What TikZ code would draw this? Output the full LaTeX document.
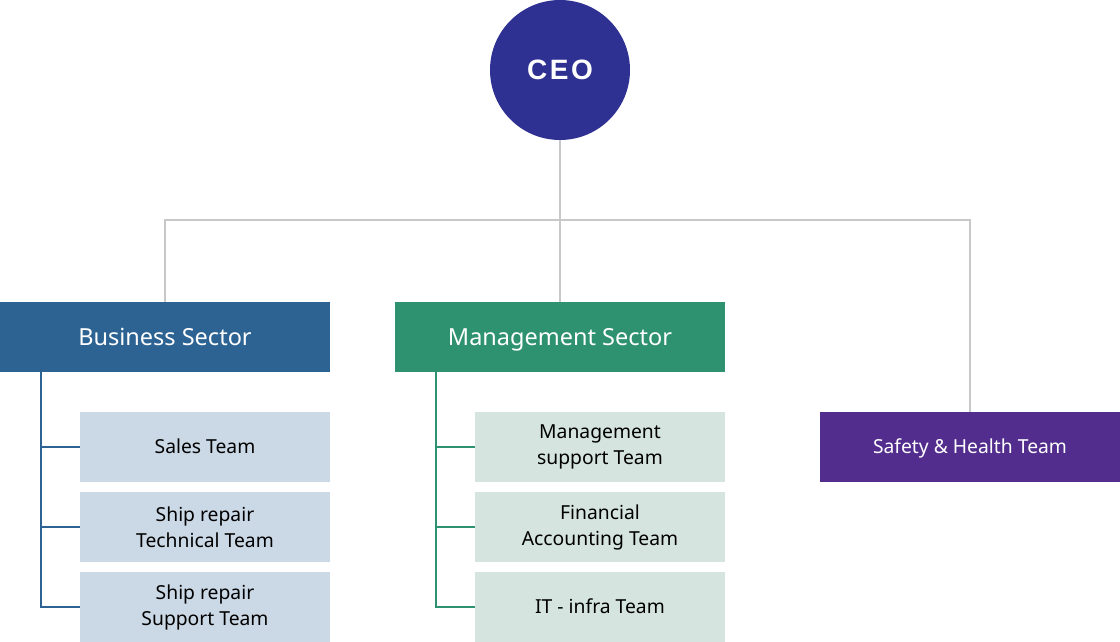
\documentclass[tikz,border=0pt]{standalone}
\usepackage{fontspec}
\setmainfont{Noto Sans}
\newfontfamily\ceofont[LetterSpace=9]{Liberation Sans}
\definecolor{ceoblue}{HTML}{2E3192}
\definecolor{bizblue}{HTML}{2D6393}
\definecolor{mgmtgreen}{HTML}{2E9271}
\definecolor{safepurple}{HTML}{532D8E}
\definecolor{lightblue}{HTML}{CBD8E5}
\definecolor{lightgreen}{HTML}{D5E4DF}
\definecolor{linegray}{HTML}{C8C8C8}
\begin{document}
\begin{tikzpicture}[x=1pt,y=-1pt,
  sector/.style={minimum width=330pt,minimum height=70pt,inner sep=0pt,text=white,text height=16.8pt,text depth=0pt,font=\fontsize{23.5}{28}\selectfont},
  team/.style={minimum width=250pt,minimum height=70pt,inner sep=0pt,text=black,align=center,font=\fontsize{19.3}{26}\selectfont},
  oneline/.style={text height=13.8pt,text depth=0pt},
  gline/.style={draw=linegray,line width=2pt},
  bline/.style={draw=bizblue,line width=2pt},
  mline/.style={draw=mgmtgreen,line width=2pt}]
\useasboundingbox (0,0) rectangle (1120,642);
\node[circle,fill=ceoblue,minimum size=140pt,inner sep=0pt,text=white,text height=20pt,text depth=0pt,font=\ceofont\bfseries\fontsize{28}{30}\selectfont] (ceo) at (560,70) {CEO};
\node[sector,fill=bizblue] (bs) at (165,337) {Business Sector};
\node[sector,fill=mgmtgreen] (ms) at (560,337) {Management Sector};
\node[minimum width=300pt,minimum height=70pt,inner sep=0pt,text=white,fill=safepurple,oneline,font=\fontsize{19.3}{24}\selectfont] (sh) at (970,447) {Safety \& Health Team};
\node[team,fill=lightblue,oneline] (sales) at (205,447) {Sales Team};
\node[team,fill=lightblue] (tech) at (205,527) {Ship repair\\Technical Team};
\node[team,fill=lightblue] (supp) at (205,607) {Ship repair\\Support Team};
\node[team,fill=lightgreen] (msup) at (600,447) {Management\\support Team};
\node[team,fill=lightgreen] (fin) at (600,527) {Financial\\Accounting Team};
\node[team,fill=lightgreen,oneline] (it) at (600,607) {IT - infra Team};
\coordinate (j) at (560,220);
\coordinate (bt) at (41,372);
\coordinate (mt) at (436,372);
\draw[gline] (ceo.south) -- (j);
\draw[gline] (bs.north) |- (j) -| (sh.north);
\draw[gline] (ms.north) -- (j);
\draw[bline] (bt) |- (sales.west);
\draw[bline] (bt) |- (tech.west);
\draw[bline] (bt) |- (supp.west);
\draw[mline] (mt) |- (msup.west);
\draw[mline] (mt) |- (fin.west);
\draw[mline] (mt) |- (it.west);
\end{tikzpicture}
\end{document}
